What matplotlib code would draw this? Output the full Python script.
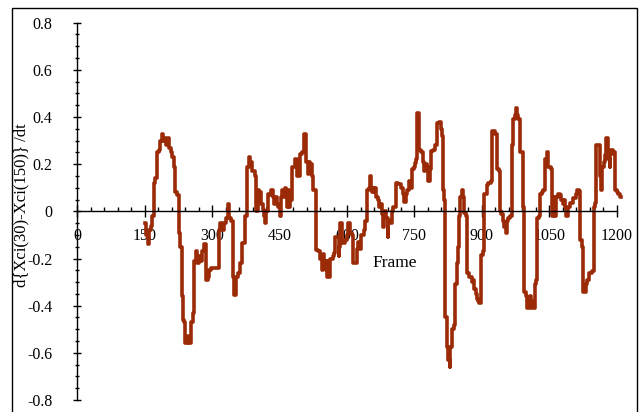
import matplotlib.pyplot as plt
from matplotlib.patches import Rectangle
from matplotlib.ticker import MultipleLocator

plt.rcParams['font.family'] = ['Liberation Serif', 'DejaVu Serif']
plt.rcParams['axes.unicode_minus'] = False

# frame at which each level starts, and the level (steps-post)
frames = [151, 153, 156, 160, 163, 166, 170, 173, 176, 181, 184, 187, 190, 194, 198,
          201, 204, 207, 210, 214, 217, 222, 226, 229, 232, 235, 238, 240, 246, 249,
          253, 256, 260, 264, 267, 271, 275, 278, 282, 286, 290, 293, 298, 314, 318,
          322, 325, 330, 334, 337, 342, 345, 348, 352, 357, 362, 366, 372, 378, 382,
          385, 389, 395, 398, 401, 405, 408, 412, 415, 418, 420, 423, 427, 430, 434,
          437, 440, 443, 447, 451, 453, 456, 459, 461, 464, 466, 468, 471, 474, 477,
          481, 484, 488, 496, 500, 503, 505, 509, 512, 515, 518, 522, 524, 525, 531,
          536, 540, 544, 546, 549, 552, 555, 556, 563, 568, 570, 573, 578, 581, 583,
          584, 589, 595, 599, 601, 606, 610, 613, 621, 625, 629, 632, 638, 640, 645,
          648, 650, 653, 655, 657, 660, 662, 665, 668, 671, 674, 677, 679, 682, 687,
          690, 692, 695, 699, 703, 709, 714, 719, 724, 727, 730, 734, 738, 741, 744,
          748, 751, 754, 756, 761, 765, 768, 771, 774, 777, 781, 784, 786, 792, 796,
          801, 805, 808, 811, 813, 816, 818, 822, 823, 825, 828, 830, 833, 838, 840,
          844, 847, 849, 851, 855, 858, 860, 864, 866, 867, 872, 877, 880, 883, 886,
          889, 892, 894, 897, 899, 903, 904, 910, 912, 914, 921, 923, 930, 933, 938,
          940, 943, 947, 950, 953, 955, 958, 962, 966, 968, 970, 973, 976, 978, 980,
          984, 990, 992, 993, 998, 1001, 1006, 1009, 1012, 1018, 1021, 1023, 1027, 1029, 1033,
          1036, 1040, 1043, 1045, 1047, 1053, 1055, 1057, 1060, 1062, 1066, 1070, 1074, 1077, 1080,
          1082, 1085, 1088, 1092, 1095, 1099, 1102, 1106, 1109, 1112, 1116, 1118, 1119, 1123, 1125,
          1131, 1134, 1138, 1146, 1149, 1152, 1155, 1161, 1162, 1166, 1168, 1171, 1173, 1177, 1181,
          1184, 1186, 1191, 1193, 1196, 1200, 1203, 1207, 1210]
values = [-0.05, -0.10, -0.14, -0.08, -0.06, -0.02, 0.12, 0.14, 0.25, 0.26, 0.30, 0.33, 0.30, 0.31, 0.28,
          0.31, 0.27, 0.25, 0.23, 0.19, 0.08, 0.07, -0.09, -0.15, -0.36, -0.46, -0.47, -0.56, -0.53, -0.56,
          -0.47, -0.43, -0.21, -0.17, -0.22, -0.19, -0.21, -0.17, -0.14, -0.29, -0.28, -0.25, -0.24, -0.08, -0.05,
          -0.08, -0.05, -0.03, 0.03, -0.03, -0.04, -0.28, -0.355, -0.28, -0.26, -0.22, -0.135, -0.02, 0.19, 0.23,
          0.21, 0.17, 0.15, 0.0, 0.09, 0.08, 0.03, 0.005, -0.02, -0.05, 0.0, 0.075, 0.07, 0.09, 0.06,
          0.03, 0.06, 0.03, 0.02, -0.02, 0.06, 0.09, 0.06, 0.10, 0.09, 0.02, 0.09, 0.02, 0.05, 0.19,
          0.19, 0.22, 0.15, 0.245, 0.25, 0.317, 0.33, 0.21, 0.16, 0.21, 0.20, 0.15, 0.14, 0.09, -0.163,
          -0.17, -0.20, -0.25, -0.18, -0.21, -0.25, -0.21, -0.277, -0.20, -0.19, -0.175, -0.11, -0.11, -0.19, -0.15,
          -0.05, -0.135, -0.12, -0.10, -0.05, -0.09, -0.10, -0.22, -0.16, -0.13, -0.16, -0.10, -0.08, -0.04, 0.09,
          0.10, 0.15, 0.10, 0.08, 0.10, 0.08, 0.10, 0.06, 0.05, 0.02, 0.03, -0.01, -0.065, 0.0, -0.03,
          -0.11, -0.04, -0.05, 0.0, 0.02, 0.12, 0.115, 0.10, 0.075, 0.04, 0.075, 0.09, 0.13, 0.10, 0.18,
          0.19, 0.205, 0.22, 0.417, 0.26, 0.25, 0.21, 0.17, 0.20, 0.19, 0.13, 0.18, 0.255, 0.26, 0.28,
          0.374, 0.38, 0.35, 0.32, 0.09, 0.05, -0.446, -0.47, -0.574, -0.63, -0.66, -0.574, -0.50, -0.48, -0.31,
          -0.22, -0.15, -0.02, 0.06, 0.09, 0.06, -0.005, -0.02, -0.05, -0.26, -0.28, -0.30, -0.29, -0.33, -0.35,
          -0.37, -0.38, -0.39, -0.37, -0.185, -0.17, 0.075, 0.075, 0.11, 0.12, 0.13, 0.34, 0.33, 0.18, 0.17,
          0.0, -0.01, -0.04, -0.065, -0.09, -0.04, -0.03, -0.02, 0.27, 0.28, 0.39, 0.41, 0.44, 0.41, 0.39,
          0.25, 0.25, 0.02, -0.34, -0.36, -0.41, -0.36, -0.38, -0.41, -0.31, -0.29, -0.03, -0.02, 0.075, 0.08,
          0.09, 0.22, 0.215, 0.25, 0.19, 0.18, 0.06, -0.02, 0.06, -0.02, 0.06, 0.075, 0.07, 0.05, 0.03,
          0.05, 0.02, -0.02, 0.02, 0.035, 0.035, 0.055, 0.055, 0.075, 0.09, 0.085, 0.04, -0.12, -0.15, -0.34,
          -0.31, -0.29, -0.26, -0.255, 0.02, 0.035, 0.28, 0.28, 0.15, 0.09, 0.19, 0.21, 0.24, 0.31, 0.22,
          0.19, 0.26, 0.245, 0.25, 0.09, 0.08, 0.075, 0.06, 0.06]

x_ticks = [0, 150, 300, 450, 600, 750, 900, 1050, 1200]
y_ticks = [-0.8, -0.6, -0.4, -0.2, 0, 0.2, 0.4, 0.6, 0.8]
y_labels = ['-0.8', '-0.6', '-0.4', '-0.2', '0', '0.2', '0.4', '0.6', '0.8']

fig = plt.figure(figsize=(6.42, 4.12), dpi=100)
ax = fig.add_axes([0.1207, 0.0291, 0.8399, 0.9158])

ax.plot(frames, values, drawstyle='steps-post', color='#9b2a06', lw=2.6, clip_on=False)

ax.set_xlim(0, 1200)
ax.set_ylim(-0.8, 0.8)

# x axis runs through y = 0
ax.spines['top'].set_visible(False)
ax.spines['right'].set_visible(False)
ax.spines['bottom'].set_position(('data', 0))
ax.spines['left'].set_linewidth(1.0)
ax.spines['bottom'].set_linewidth(1.0)

ax.set_xticks(x_ticks)
ax.set_xticklabels([str(t) for t in x_ticks])
ax.set_yticks(y_ticks)
ax.set_yticklabels(y_labels)
ax.xaxis.set_minor_locator(MultipleLocator(30))
ax.yaxis.set_minor_locator(MultipleLocator(0.05))

ax.tick_params(axis='x', which='major', direction='inout', length=8, width=1, pad=8, labelsize=11.5)
ax.tick_params(axis='x', which='minor', direction='in', length=3, width=1)
ax.tick_params(axis='y', which='major', direction='inout', length=6, width=1, pad=15, labelsize=11.5)
ax.tick_params(axis='y', which='minor', direction='inout', length=3, width=1)

ax.text(0.589, 0.363, 'Frame', transform=ax.transAxes, ha='center', va='center', fontsize=12.5)
fig.text(21 / 642, 1 - 205 / 412, 'd{Xci(30)-Xci(150)} /dt', rotation=90,
         ha='center', va='center', fontsize=12)

# outer border of the chart area
fig.patches.append(Rectangle((12 / 642, -0.1), 625 / 642, 1.1 - 8 / 412, transform=fig.transFigure,
                             fill=False, ec='black', lw=1.0))

fig.savefig('out.png', dpi=100)
